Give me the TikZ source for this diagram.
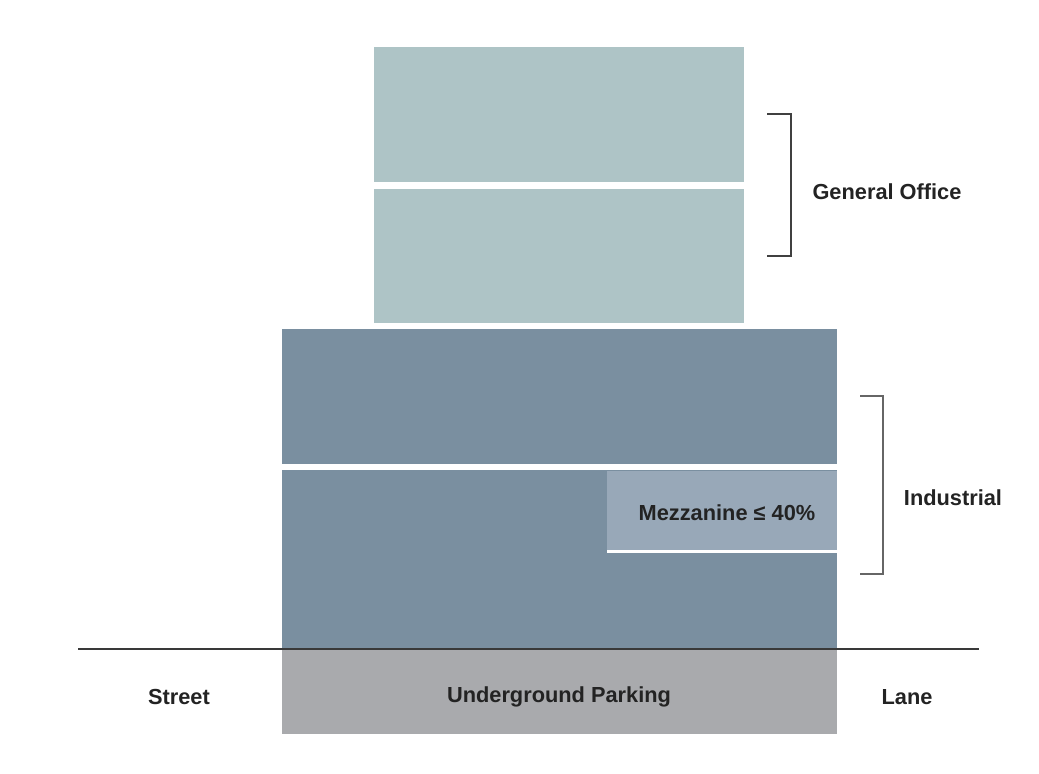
\documentclass[tikz,border=0pt]{standalone}
\usepackage{fontspec}
\setmainfont{Liberation Sans}
\usepackage{xcolor}
\usepackage{tikz}
\usetikzlibrary{calc}
\definecolor{C0}{RGB}{174,196,198}
\definecolor{C1}{RGB}{122,143,160}
\definecolor{C2}{RGB}{152,168,184}
\definecolor{C3}{RGB}{169,170,173}
\definecolor{T0}{RGB}{35,35,35}

\begin{document}
\begin{tikzpicture}[x=0.02cm, y=-0.02cm,
    lbl/.style={font=\bfseries\fontsize{12.4}{14}\selectfont, text=T0, inner sep=0pt}]

    %% Frame of the picture
    \useasboundingbox (0,0) rectangle (1039,774);

    %% --- General office floors ---
    \fill[C0] (374, 47) rectangle (744,182);
    \fill[C0] (374,189) rectangle (744,323);

    %% --- Industrial floors ---
    \fill[C1] (282,329) rectangle (837,464);
    \fill[C1] (282,470) rectangle (837,649);

    %% Mezzanine with white floor line under it
    \fill[C2] (607,471) rectangle (837,550);
    \fill[white] (607,550) rectangle (837,553);

    %% --- Underground parking ---
    \fill[C3] (282,649) rectangle (837,734);

    %% Ground line
    \coordinate (G1) at (78,649);
    \coordinate (G2) at (979,649);
    \draw[T0!90, line width=0.9pt] (G1) -- (G2);

    %% --- Brackets ---
    \draw[black!75, line width=0.6pt] (767,114) -- (791,114) -- (791,256) -- (767,256);
    \draw[black!60, line width=0.6pt] (860,396) -- (883,396) -- (883,574) -- (860,574);

    %% Labels
    \node[lbl] (office) at (887,192) {General Office};
    \node[lbl] (industrial) at (953,498) {Industrial};
    \node[lbl] (mezz) at (727,513) {Mezzanine ≤ 40\%};
    \node[lbl] (street) at (179,697) {Street};
    \node[lbl] (parking) at (559,697) {Underground Parking};
    \node[lbl] (lane) at (907,697) {Lane};

\end{tikzpicture}
\end{document}
